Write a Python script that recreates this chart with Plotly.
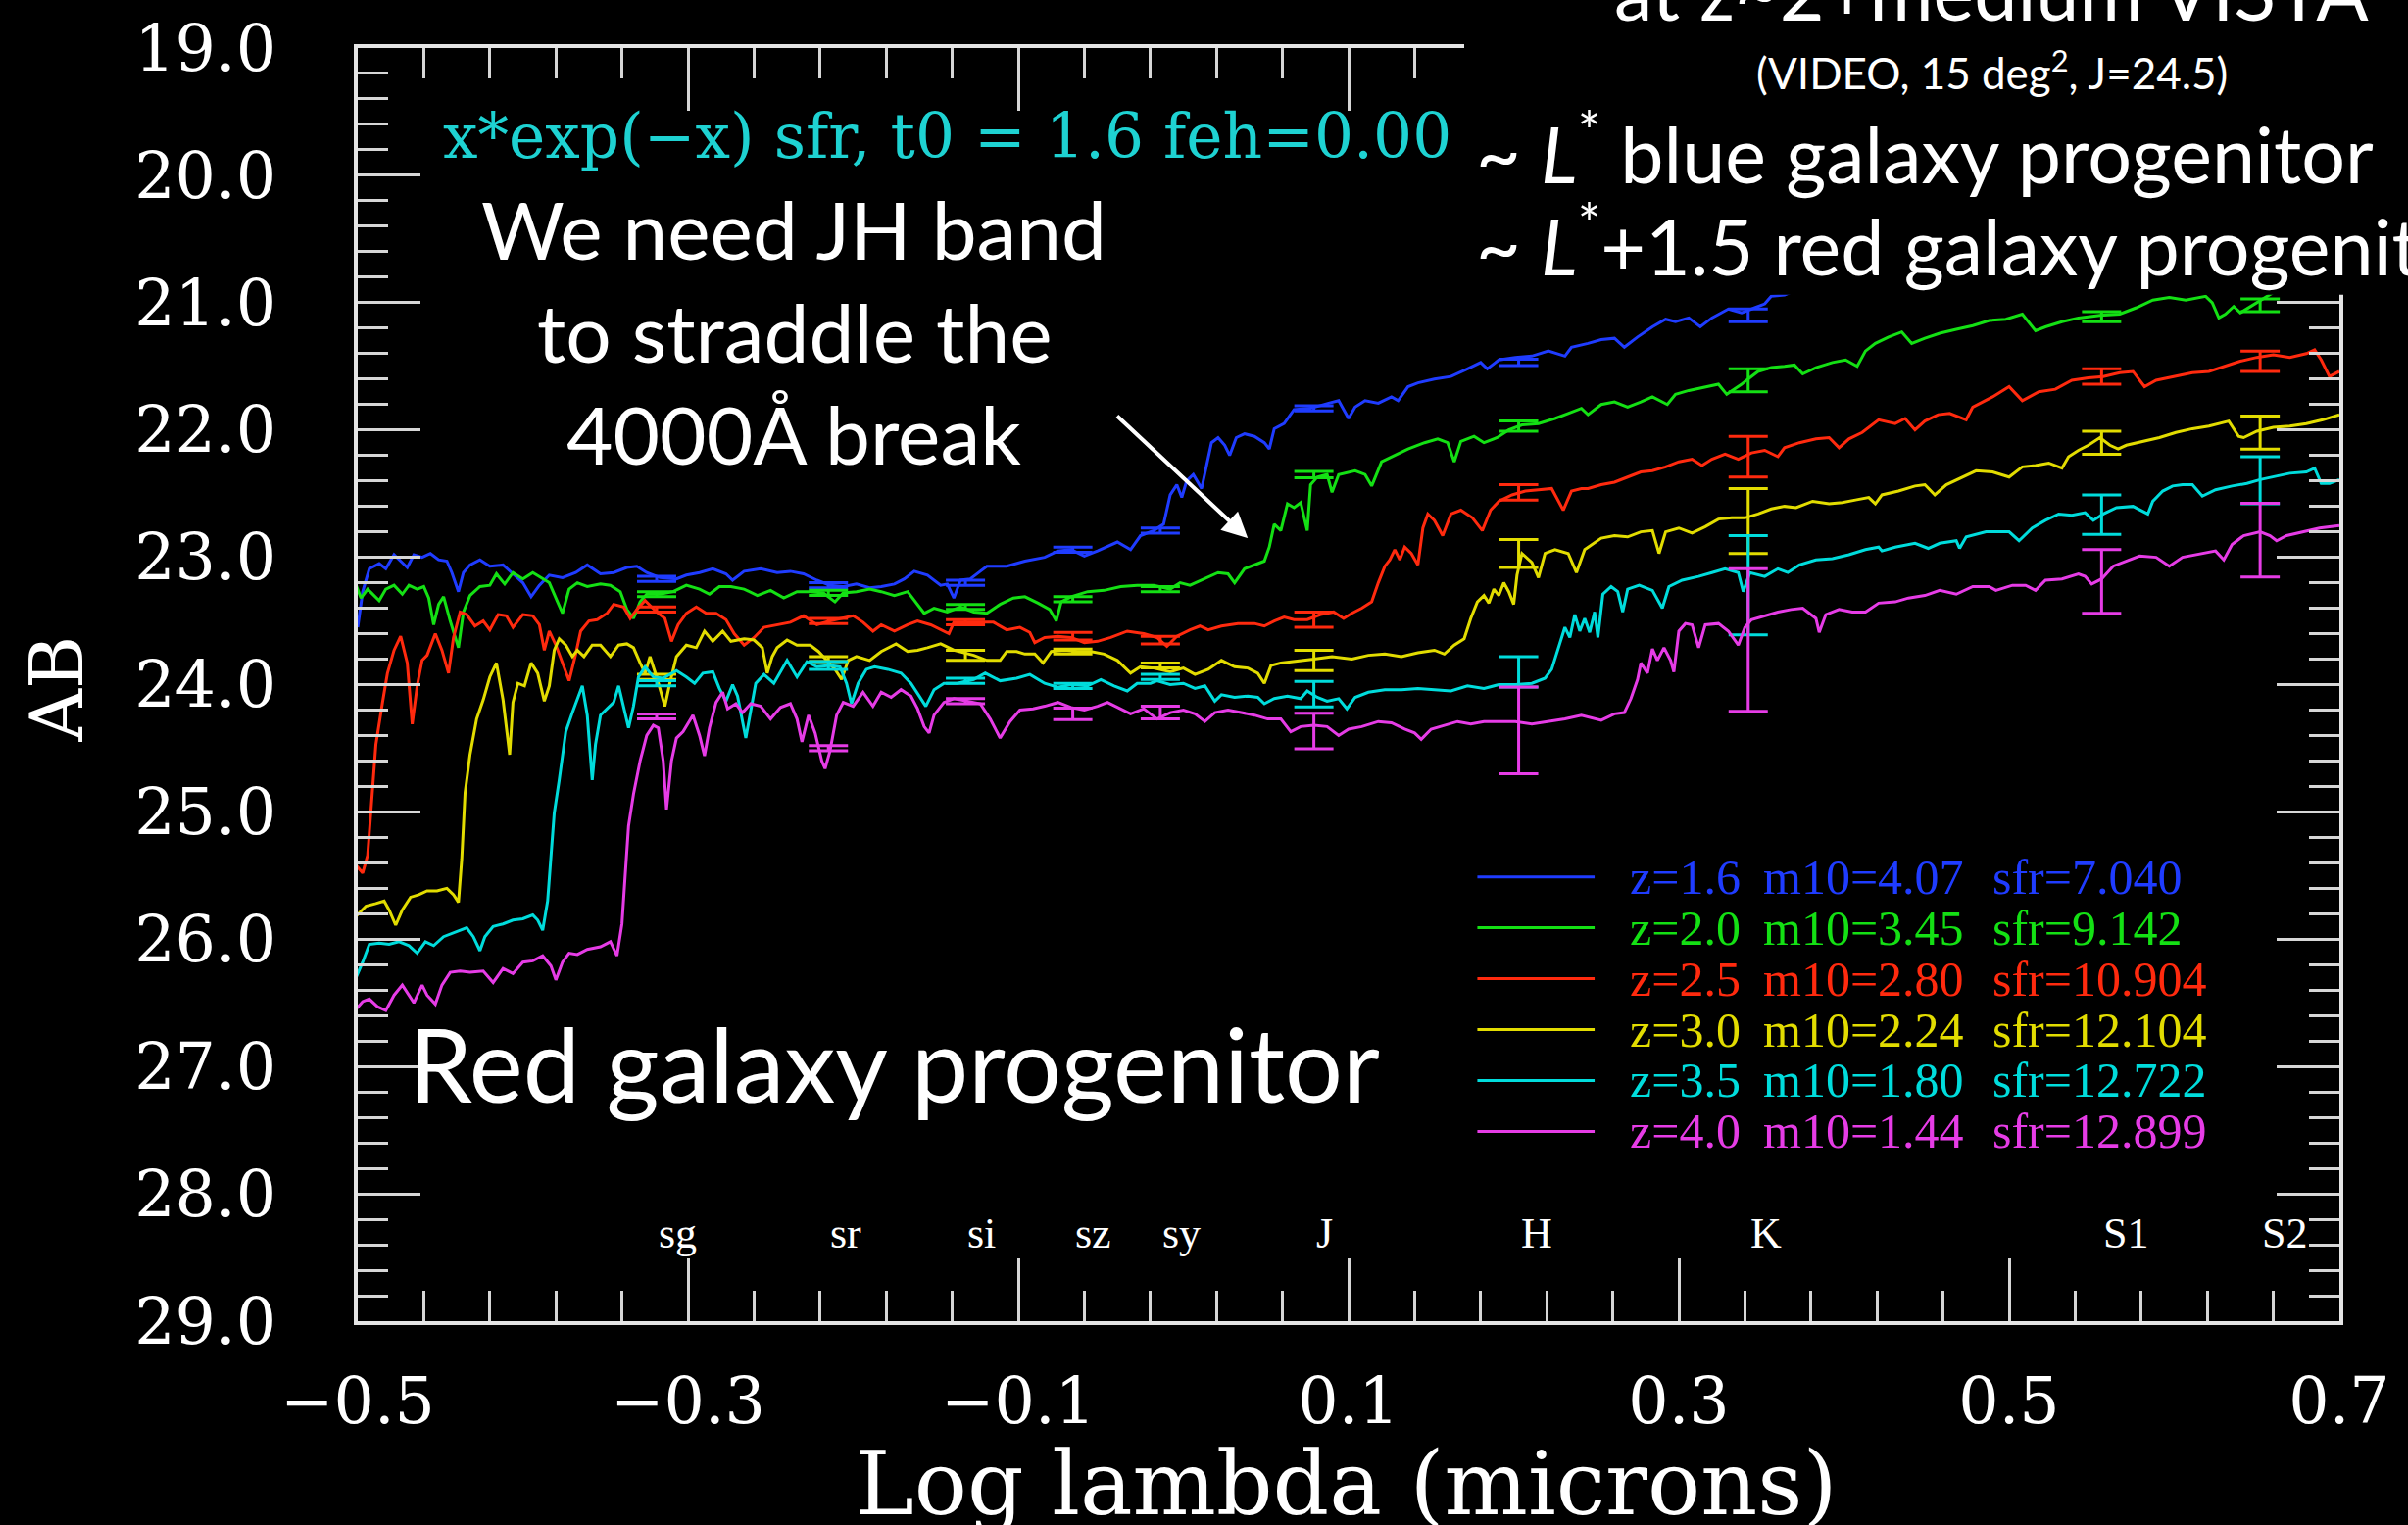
import plotly.graph_objects as go

# ---------------------------------------------------------------- data
# photometric bands (log10 of central wavelength in microns)
band_names = ["sg", "sr", "si", "sz", "sy", "J", "H", "K", "S1", "S2"]
band_logwl = [-0.319, -0.215, -0.132, -0.067, -0.014, 0.079, 0.203, 0.342, 0.556, 0.652]

# model spectra: (log lambda [micron], AB mag)
spec_z16 = [(-0.500,23.55),(-0.497,23.27),(-0.493,23.09),(-0.487,23.05),(-0.483,23.09),(-0.478,22.98),(-0.474,23.03),(-0.470,23.08),(-0.466,22.98),(-0.461,23.00),(-0.456,22.97),(-0.451,23.02),(-0.446,23.03),(-0.443,23.12),(-0.439,23.27),(-0.436,23.12),(-0.432,23.06),(-0.426,23.02),(-0.420,23.07),(-0.412,23.06),(-0.406,23.13),(-0.400,23.20),(-0.395,23.31),(-0.390,23.22),(-0.384,23.14),(-0.376,23.16),(-0.368,23.12),(-0.361,23.06),(-0.353,23.13),(-0.345,23.12),(-0.337,23.08),(-0.331,23.07),(-0.325,23.12),(-0.317,23.16),(-0.307,23.17),(-0.301,23.14),(-0.293,23.12),(-0.285,23.09),(-0.277,23.13),(-0.273,23.18),
            (-0.266,23.11),(-0.256,23.09),(-0.246,23.12),(-0.238,23.11),(-0.230,23.13),(-0.222,23.18),(-0.214,23.22),(-0.206,23.23),(-0.198,23.21),(-0.190,23.24),(-0.183,23.23),(-0.175,23.21),(-0.169,23.17),(-0.163,23.11),(-0.155,23.14),(-0.147,23.22),(-0.143,23.21),(-0.139,23.32),(-0.135,23.18),(-0.129,23.17),(-0.123,23.11),(-0.119,23.07),(-0.107,23.07),(-0.096,23.03),(-0.084,23.00),(-0.076,22.95),(-0.068,22.94),(-0.060,22.99),(-0.052,22.95),(-0.040,22.88),(-0.032,22.94),(-0.026,22.83),(-0.018,22.79),
            (-0.012,22.74),(-0.008,22.51),(-0.004,22.43),(-0.001,22.53),(0.002,22.40),(0.006,22.35),(0.011,22.46),(0.014,22.28),(0.017,22.10),(0.021,22.06),(0.025,22.12),(0.028,22.20),(0.032,22.06),(0.037,22.03),(0.043,22.05),(0.049,22.10),(0.052,22.15),(0.055,21.99),(0.061,21.95),(0.067,21.84),(0.077,21.83),(0.088,21.79),(0.094,21.77),(0.100,21.91),(0.104,21.82),(0.110,21.77),(0.118,21.79),(0.126,21.74),(0.130,21.77),(0.136,21.66),(0.142,21.63),(0.152,21.60),(0.162,21.58),(0.172,21.52),(0.180,21.47),(0.184,21.52),(0.191,21.45),(0.201,21.43),(0.211,21.42),(0.221,21.38),(0.231,21.42),(0.235,21.35),(0.245,21.32),
            (0.253,21.29),(0.261,21.28),(0.267,21.35),(0.275,21.27),(0.284,21.19),(0.292,21.13),(0.298,21.15),(0.306,21.12),(0.313,21.19),(0.320,21.12),(0.330,21.05),(0.338,21.08),(0.346,21.04),(0.352,21.01),(0.356,20.95),(0.364,20.94),(0.375,20.88)]

spec_z20 = [(-0.501,23.22),(-0.498,23.32),(-0.494,23.25),(-0.491,23.29),(-0.487,23.34),(-0.483,23.25),(-0.478,23.22),(-0.473,23.29),(-0.469,23.22),(-0.464,23.25),(-0.460,23.23),(-0.457,23.32),(-0.454,23.53),(-0.451,23.37),(-0.448,23.31),(-0.444,23.50),(-0.439,23.71),(-0.436,23.43),(-0.432,23.30),(-0.426,23.23),(-0.420,23.22),(-0.416,23.13),(-0.411,23.21),(-0.406,23.12),(-0.400,23.17),(-0.394,23.12),(-0.388,23.17),(-0.384,23.20),(-0.379,23.35),(-0.376,23.44),(-0.372,23.25),(-0.367,23.20),(-0.361,23.23),(-0.353,23.21),(-0.347,23.22),(-0.341,23.27),(-0.337,23.41),(-0.333,23.48),(-0.329,23.35),(-0.325,23.29),(-0.317,23.29),(-0.309,23.27),(-0.301,23.22),(-0.293,23.25),(-0.287,23.29),(-0.281,23.23),(-0.274,23.23),
            (-0.266,23.25),(-0.258,23.30),(-0.250,23.26),(-0.242,23.32),(-0.234,23.27),(-0.226,23.27),(-0.218,23.28),(-0.211,23.35),(-0.206,23.28),(-0.198,23.27),(-0.190,23.25),(-0.183,23.27),(-0.175,23.30),(-0.167,23.27),(-0.161,23.37),(-0.157,23.44),(-0.151,23.40),(-0.143,23.43),(-0.135,23.39),(-0.127,23.43),(-0.119,23.44),(-0.111,23.37),(-0.103,23.32),(-0.096,23.31),(-0.088,23.36),(-0.081,23.41),(-0.077,23.50),(-0.074,23.35),(-0.068,23.31),(-0.058,23.27),(-0.048,23.26),(-0.038,23.23),(-0.028,23.22),(-0.018,23.22),
            (-0.008,23.25),(-0.002,23.20),(0.004,23.22),(0.013,23.17),(0.021,23.12),(0.027,23.13),(0.031,23.20),(0.037,23.09),(0.043,23.06),(0.049,23.03),(0.052,22.92),(0.055,22.74),(0.059,22.79),(0.063,22.58),(0.067,22.61),(0.071,22.57),(0.075,22.79),(0.077,22.43),(0.081,22.37),(0.087,22.35),(0.090,22.49),(0.094,22.35),(0.104,22.32),(0.110,22.35),(0.114,22.44),(0.120,22.25),(0.128,22.20),(0.136,22.15),(0.146,22.10),(0.154,22.07),(0.160,22.10),(0.164,22.25),(0.168,22.09),(0.176,22.05),(0.182,22.10),(0.190,22.06),(0.197,22.00),(0.205,21.96),(0.215,21.95),(0.225,21.91),(0.233,21.87),(0.241,21.83),
            (0.245,21.88),(0.253,21.80),(0.261,21.78),(0.269,21.82),(0.277,21.78),(0.284,21.74),(0.293,21.80),(0.298,21.72),(0.306,21.69),(0.316,21.66),(0.324,21.64),(0.329,21.72),(0.338,21.64),(0.348,21.54),(0.356,21.51),(0.364,21.50),(0.370,21.49),(0.375,21.56),(0.383,21.51),(0.393,21.47),(0.401,21.45),(0.408,21.50),(0.413,21.38),(0.419,21.32),(0.427,21.27),(0.435,21.23),(0.441,21.32),(0.449,21.28),(0.458,21.24),(0.468,21.21),(0.478,21.18),
            (0.488,21.14),(0.498,21.13),(0.508,21.09),(0.516,21.22),(0.522,21.19),(0.532,21.15),(0.542,21.12),(0.555,21.10),(0.567,21.09),(0.577,21.04),(0.587,20.98),(0.597,20.96),(0.607,20.98),(0.619,20.95),(0.623,21.00),(0.627,21.12),(0.631,21.09),(0.636,21.03),(0.640,21.08),(0.646,21.03),(0.652,20.98),(0.660,20.92),(0.700,20.85)]

spec_z25 = [(-0.501,25.42),(-0.497,25.48),(-0.494,25.34),(-0.492,24.98),(-0.489,24.47),(-0.485,24.14),(-0.482,23.91),(-0.478,23.73),(-0.474,23.62),(-0.470,23.83),(-0.467,24.31),(-0.464,24.01),(-0.461,23.81),(-0.458,23.77),(-0.453,23.60),(-0.449,23.73),(-0.445,23.91),(-0.442,23.63),(-0.438,23.43),(-0.434,23.45),(-0.429,23.54),(-0.424,23.50),(-0.420,23.57),(-0.415,23.45),(-0.410,23.46),(-0.406,23.55),(-0.400,23.45),(-0.394,23.46),(-0.390,23.53),(-0.387,23.73),(-0.384,23.58),(-0.380,23.69),(-0.376,23.83),(-0.372,23.97),(-0.368,23.76),(-0.365,23.58),(-0.360,23.50),(-0.355,23.49),(-0.349,23.44),(-0.345,23.37),(-0.339,23.39),(-0.335,23.48),(-0.331,23.41),(-0.326,23.34),(-0.319,23.43),(-0.314,23.48),(-0.310,23.66),(-0.306,23.53),(-0.301,23.44),(-0.295,23.39),(-0.289,23.44),(-0.283,23.44),(-0.277,23.49),(-0.272,23.60),
            (-0.266,23.69),(-0.260,23.63),(-0.254,23.55),(-0.246,23.53),(-0.238,23.51),(-0.230,23.46),(-0.222,23.53),(-0.214,23.50),(-0.206,23.48),(-0.200,23.46),(-0.194,23.51),(-0.188,23.58),(-0.183,23.53),(-0.175,23.58),(-0.167,23.53),(-0.161,23.50),(-0.153,23.53),(-0.145,23.58),(-0.142,23.60),(-0.139,23.51),(-0.131,23.51),(-0.123,23.51),(-0.115,23.51),(-0.107,23.57),(-0.099,23.55),(-0.093,23.59),(-0.090,23.67),(-0.084,23.63),(-0.076,23.62),(-0.068,23.63),(-0.060,23.67),(-0.052,23.66),(-0.044,23.63),(-0.034,23.58),(-0.024,23.60),
            (-0.016,23.63),(-0.010,23.70),(-0.004,23.62),(0.004,23.57),(0.010,23.54),(0.015,23.57),(0.023,23.54),(0.033,23.52),(0.043,23.52),(0.049,23.54),(0.055,23.50),(0.061,23.47),(0.067,23.49),(0.075,23.49),(0.083,23.45),(0.091,23.43),(0.097,23.48),(0.102,23.44),(0.108,23.40),(0.114,23.35),(0.118,23.20),(0.122,23.07),(0.125,23.02),(0.128,22.94),(0.131,23.02),(0.134,22.92),(0.138,22.97),(0.142,23.06),(0.145,22.77),(0.148,22.66),(0.152,22.71),(0.157,22.83),(0.162,22.66),(0.168,22.63),(0.175,22.69),(0.181,22.79),(0.186,22.63),(0.191,22.56),(0.199,22.51),(0.207,22.48),(0.215,22.47),(0.223,22.46),(0.230,22.63),(0.235,22.48),(0.241,22.46),
            (0.245,22.46),(0.253,22.43),(0.261,22.41),(0.269,22.37),(0.277,22.33),(0.284,22.32),(0.292,22.29),(0.300,22.25),(0.308,22.23),(0.314,22.28),(0.320,22.23),(0.328,22.19),(0.336,22.23),(0.344,22.18),(0.352,22.16),(0.360,22.21),(0.364,22.14),(0.373,22.10),(0.383,22.07),(0.391,22.06),(0.397,22.14),(0.403,22.07),(0.411,22.02),(0.421,21.92),(0.431,21.95),(0.437,21.91),(0.443,22.00),(0.449,21.93),(0.457,21.88),(0.464,21.87),(0.474,21.92),(0.478,21.82),
            (0.490,21.74),(0.500,21.66),(0.508,21.77),(0.518,21.70),(0.528,21.68),(0.538,21.61),(0.548,21.59),(0.557,21.58),(0.567,21.55),(0.575,21.54),(0.582,21.66),(0.589,21.61),(0.601,21.58),(0.611,21.55),(0.621,21.54),(0.631,21.50),(0.640,21.46),(0.650,21.43),(0.660,21.41),(0.670,21.43),(0.680,21.40),(0.685,21.37),(0.689,21.45),(0.694,21.58),(0.700,21.54)]

spec_z30 = [(-0.501,25.82),(-0.495,25.74),(-0.489,25.72),(-0.484,25.70),(-0.481,25.77),(-0.477,25.89),(-0.473,25.77),(-0.468,25.67),(-0.463,25.65),(-0.458,25.62),(-0.452,25.62),(-0.446,25.60),(-0.442,25.65),(-0.439,25.71),(-0.437,25.37),(-0.435,24.85),(-0.432,24.55),(-0.428,24.27),(-0.424,24.12),(-0.420,23.94),(-0.416,23.83),(-0.412,24.12),(-0.408,24.55),(-0.406,24.14),(-0.403,23.99),(-0.399,24.01),(-0.395,23.83),(-0.391,23.91),(-0.387,24.13),(-0.384,24.01),(-0.381,23.73),(-0.378,23.64),(-0.374,23.69),(-0.370,23.78),(-0.367,23.73),(-0.363,23.78),(-0.358,23.69),(-0.353,23.69),(-0.347,23.78),(-0.342,23.69),(-0.337,23.68),(-0.333,23.71),(-0.329,23.83),(-0.326,23.91),(-0.323,23.78),(-0.319,23.94),(-0.314,24.17),(-0.311,23.99),(-0.307,23.78),(-0.301,23.69),(-0.295,23.71),(-0.290,23.58),(-0.285,23.66),(-0.279,23.58),(-0.274,23.66),
            (-0.266,23.64),(-0.260,23.65),(-0.255,23.71),(-0.252,23.91),(-0.249,23.78),(-0.246,23.71),(-0.240,23.65),(-0.234,23.69),(-0.226,23.69),(-0.221,23.74),(-0.216,23.81),(-0.211,23.88),(-0.207,23.96),(-0.203,23.81),(-0.198,23.78),(-0.190,23.81),(-0.183,23.74),(-0.174,23.68),(-0.167,23.74),(-0.161,23.73),(-0.155,23.71),(-0.147,23.68),(-0.139,23.73),(-0.127,23.77),(-0.119,23.81),(-0.111,23.81),(-0.107,23.74),(-0.101,23.74),(-0.096,23.76),(-0.090,23.76),(-0.085,23.83),(-0.080,23.74),(-0.072,23.73),(-0.064,23.74),(-0.056,23.74),(-0.048,23.76),(-0.040,23.81),(-0.032,23.91),(-0.026,23.86),(-0.018,23.87),
            (-0.008,23.90),(0.000,23.87),(0.007,23.92),(0.015,23.88),(0.023,23.81),(0.031,23.86),(0.039,23.87),(0.045,23.91),(0.049,23.99),(0.053,23.85),(0.059,23.83),(0.067,23.82),(0.079,23.80),(0.090,23.78),(0.102,23.80),(0.112,23.77),(0.122,23.76),(0.132,23.78),(0.142,23.75),(0.152,23.73),(0.158,23.76),(0.164,23.69),(0.170,23.64),(0.174,23.48),(0.178,23.35),(0.182,23.30),(0.185,23.36),(0.188,23.25),(0.191,23.30),(0.194,23.20),(0.197,23.27),(0.200,23.37),(0.202,23.14),(0.205,22.97),(0.211,23.04),(0.215,23.16),(0.219,22.97),(0.225,22.94),(0.233,22.97),(0.238,23.12),(0.243,22.94),
            (0.253,22.85),(0.261,22.83),(0.269,22.84),(0.277,22.80),(0.284,22.79),(0.288,22.97),(0.292,22.80),(0.300,22.77),(0.308,22.81),(0.316,22.76),(0.324,22.70),(0.332,22.69),(0.340,22.69),(0.348,22.66),(0.356,22.62),(0.364,22.60),(0.371,22.61),(0.381,22.56),(0.391,22.58),(0.399,22.57),(0.407,22.55),(0.415,22.53),(0.419,22.58),(0.423,22.51),(0.433,22.48),(0.443,22.44),(0.449,22.43),(0.455,22.51),(0.462,22.43),(0.470,22.38),(0.480,22.32),
            (0.490,22.33),(0.500,22.37),(0.508,22.29),(0.516,22.28),(0.524,22.26),(0.532,22.30),(0.536,22.21),(0.542,22.16),(0.548,22.12),(0.555,22.06),(0.561,22.12),(0.566,22.15),(0.571,22.12),(0.581,22.09),(0.591,22.06),(0.601,22.02),(0.611,21.99),(0.621,21.97),(0.633,21.93),(0.639,22.05),(0.642,22.06),(0.650,22.01),(0.660,21.98),(0.670,21.97),(0.680,21.95),(0.690,21.92),(0.700,21.88)]

spec_z35 = [(-0.501,26.30),(-0.497,26.18),(-0.493,26.04),(-0.487,26.03),(-0.481,26.04),(-0.475,26.02),(-0.469,26.05),(-0.464,26.11),(-0.459,26.02),(-0.454,26.05),(-0.448,25.98),(-0.442,25.95),(-0.434,25.91),(-0.430,25.98),(-0.426,26.09),(-0.423,25.98),(-0.418,25.90),(-0.412,25.88),(-0.406,25.85),(-0.400,25.84),(-0.394,25.81),(-0.391,25.85),(-0.388,25.93),(-0.385,25.70),(-0.383,25.37),(-0.381,25.01),(-0.378,24.75),(-0.374,24.37),(-0.370,24.22),(-0.367,24.12),(-0.364,24.01),(-0.361,24.24),(-0.358,24.75),(-0.356,24.47),(-0.353,24.24),(-0.349,24.19),(-0.345,24.14),(-0.342,24.01),(-0.339,24.17),(-0.336,24.34),(-0.333,24.17),(-0.330,23.94),(-0.326,23.86),(-0.321,23.94),(-0.315,23.95),(-0.307,23.89),(-0.301,23.94),(-0.296,23.99),(-0.291,23.91),(-0.285,23.90),(-0.281,24.03),(-0.277,24.13),(-0.273,24.00),(-0.270,24.09),(-0.265,24.42),
            (-0.259,23.99),(-0.254,23.92),(-0.248,23.99),(-0.240,23.81),(-0.234,23.94),(-0.228,23.82),(-0.222,23.86),(-0.214,23.85),(-0.208,23.86),(-0.204,23.99),(-0.201,24.15),(-0.197,23.99),(-0.192,23.88),(-0.187,23.86),(-0.179,23.88),(-0.171,23.91),(-0.165,23.99),(-0.160,24.09),(-0.156,24.17),(-0.151,24.04),(-0.145,23.99),(-0.137,23.99),(-0.127,23.96),(-0.120,23.91),(-0.111,23.97),(-0.101,23.95),(-0.093,23.92),(-0.084,23.99),(-0.076,24.02),(-0.068,24.00),(-0.058,24.01),(-0.050,23.96),(-0.042,24.01),(-0.034,24.05),(-0.028,23.99),(-0.020,23.99),
            (-0.016,23.97),(-0.008,24.00),(0.000,23.99),(0.007,24.03),(0.013,24.01),(0.019,24.13),(0.023,24.08),(0.031,24.10),(0.039,24.09),(0.045,24.10),(0.049,24.15),(0.055,24.11),(0.063,24.09),(0.071,24.11),(0.075,24.05),(0.081,24.10),(0.087,24.13),(0.094,24.11),(0.099,24.19),(0.104,24.10),(0.112,24.06),(0.122,24.04),(0.132,24.04),(0.142,24.03),(0.152,24.04),(0.162,24.05),(0.172,24.01),(0.182,24.03),(0.191,24.00),(0.201,24.00),(0.211,23.99),(0.219,23.95),(0.223,23.88),(0.227,23.71),(0.231,23.55),(0.234,23.63),(0.237,23.45),(0.240,23.58),(0.243,23.48),(0.246,23.59),(0.249,23.43),(0.251,23.63),(0.254,23.29),
            (0.259,23.23),(0.263,23.27),(0.266,23.43),(0.269,23.25),(0.276,23.22),(0.284,23.26),(0.290,23.40),(0.294,23.23),(0.302,23.18),(0.312,23.15),(0.320,23.12),(0.328,23.09),(0.336,23.12),(0.339,23.27),(0.343,23.12),(0.352,23.15),(0.360,23.09),(0.366,23.12),(0.373,23.06),(0.383,23.02),(0.393,23.01),(0.403,22.98),(0.413,22.94),(0.421,22.92),(0.423,22.95),(0.431,22.92),(0.443,22.89),(0.451,22.93),(0.458,22.89),(0.468,22.87),(0.470,22.93),(0.474,22.84),(0.486,22.80),
            (0.492,22.80),(0.500,22.80),(0.506,22.87),(0.514,22.77),(0.522,22.71),(0.530,22.66),(0.538,22.67),(0.546,22.65),(0.551,22.71),(0.557,22.66),(0.565,22.61),(0.575,22.60),(0.584,22.66),(0.587,22.56),(0.593,22.48),(0.599,22.44),(0.605,22.43),(0.611,22.43),(0.617,22.52),(0.625,22.47),(0.635,22.44),(0.644,22.42),(0.652,22.39),(0.660,22.37),(0.670,22.34),(0.680,22.33),(0.685,22.30),(0.689,22.42),(0.694,22.42),(0.700,22.39)]

spec_z40 = [(-0.501,26.55),(-0.497,26.49),(-0.493,26.47),(-0.488,26.53),(-0.483,26.56),(-0.478,26.44),(-0.473,26.36),(-0.469,26.44),(-0.466,26.50),(-0.461,26.36),(-0.458,26.44),(-0.453,26.51),(-0.449,26.36),(-0.444,26.26),(-0.438,26.25),(-0.432,26.26),(-0.424,26.25),(-0.418,26.34),(-0.412,26.23),(-0.406,26.27),(-0.400,26.18),(-0.394,26.17),(-0.388,26.13),(-0.383,26.21),(-0.380,26.32),(-0.376,26.18),(-0.372,26.11),(-0.367,26.12),(-0.361,26.08),(-0.353,26.06),(-0.347,26.02),(-0.343,26.13),(-0.340,25.88),(-0.338,25.49),(-0.336,25.11),(-0.333,24.86),(-0.329,24.60),(-0.325,24.40),(-0.321,24.32),(-0.318,24.34),(-0.315,24.60),(-0.313,24.98),(-0.310,24.60),(-0.307,24.42),(-0.303,24.37),(-0.297,24.24),(-0.293,24.40),(-0.290,24.56),(-0.287,24.34),(-0.283,24.14),(-0.279,24.06),(-0.276,24.19),(-0.271,24.15),(-0.267,24.22),
            (-0.262,24.15),(-0.256,24.17),(-0.250,24.27),(-0.244,24.18),(-0.238,24.15),(-0.234,24.27),(-0.231,24.45),(-0.227,24.24),(-0.223,24.38),(-0.219,24.60),(-0.217,24.66),(-0.214,24.52),(-0.210,24.24),(-0.206,24.14),(-0.200,24.17),(-0.194,24.06),(-0.188,24.17),(-0.183,24.06),(-0.177,24.10),(-0.171,24.04),(-0.165,24.09),(-0.161,24.19),(-0.157,24.33),(-0.154,24.38),(-0.151,24.24),(-0.145,24.14),(-0.139,24.11),(-0.131,24.13),(-0.123,24.15),(-0.117,24.27),(-0.111,24.42),(-0.105,24.29),(-0.099,24.20),(-0.091,24.19),(-0.084,24.17),(-0.076,24.14),(-0.068,24.18),(-0.060,24.20),(-0.052,24.17),(-0.046,24.14),(-0.038,24.19),(-0.032,24.23),(-0.024,24.19),
            (-0.016,24.27),(-0.008,24.22),(0.000,24.20),(0.007,24.23),(0.013,24.29),(0.019,24.22),(0.027,24.20),(0.035,24.22),(0.043,24.24),(0.051,24.27),(0.059,24.27),(0.065,24.37),(0.071,24.33),(0.079,24.32),(0.087,24.33),(0.094,24.40),(0.100,24.35),(0.108,24.33),(0.118,24.29),(0.126,24.30),(0.134,24.35),(0.140,24.38),(0.144,24.43),(0.150,24.35),(0.158,24.32),(0.166,24.29),(0.174,24.31),(0.182,24.29),(0.191,24.29),(0.201,24.29),(0.211,24.31),(0.221,24.29),(0.231,24.27),(0.241,24.24),
            (0.253,24.28),(0.261,24.23),(0.267,24.22),(0.271,24.11),(0.275,23.96),(0.277,23.83),(0.281,23.91),(0.284,23.72),(0.287,23.81),(0.291,23.71),(0.295,23.81),(0.297,23.90),(0.300,23.58),(0.304,23.52),(0.308,23.53),(0.312,23.71),(0.316,23.53),(0.324,23.52),(0.330,23.58),(0.336,23.69),(0.340,23.55),(0.344,23.49),(0.352,23.46),(0.360,23.43),(0.368,23.41),(0.375,23.40),(0.383,23.48),(0.385,23.59),(0.389,23.45),(0.397,23.41),(0.405,23.43),(0.413,23.43),(0.421,23.36),(0.431,23.35),(0.439,23.32),(0.449,23.30),(0.458,23.26),(0.468,23.29),(0.478,23.23),(0.488,23.23),
            (0.492,23.26),(0.502,23.22),(0.510,23.22),(0.516,23.26),(0.522,23.18),(0.532,23.17),(0.542,23.13),(0.546,23.15),(0.550,23.21),(0.556,23.17),(0.563,23.07),(0.571,23.03),(0.579,22.99),(0.589,23.00),(0.597,23.07),(0.605,23.00),(0.617,22.97),(0.625,22.95),(0.630,23.02),(0.635,22.90),(0.642,22.83),(0.652,22.80),(0.658,22.83),(0.662,22.87),(0.668,22.83),(0.678,22.80),(0.688,22.77),(0.700,22.75)]

# band photometry and 1-sigma errors (one entry per band)
phot_z16 = [23.17, 23.22, 23.20, 22.94, 22.79, 21.83, 21.47, 21.10, None, None]
err_z16  = [0.02, 0.02, 0.02, 0.02, 0.02, 0.02, 0.025, 0.05, None, None]
phot_z20 = [23.29, 23.28, 23.39, 23.33, 23.25, 22.35, 21.97, 21.61, 21.11, 21.02]
err_z20  = [0.02, 0.02, 0.02, 0.02, 0.02, 0.025, 0.04, 0.09, 0.04, 0.05]
phot_z25 = [23.41, 23.50, 23.51, 23.62, 23.65, 23.49, 22.49, 22.21, 21.58, 21.46]
err_z25  = [0.02, 0.02, 0.02, 0.03, 0.03, 0.06, 0.06, 0.16, 0.06, 0.08]
phot_z30 = [23.94, 23.80, 23.77, 23.74, 23.85, 23.81, 22.97, 22.715, 22.10, 22.02]
err_z30  = [0.02, 0.02, 0.04, 0.02, 0.02, 0.08, 0.11, 0.255, 0.09, 0.13]
phot_z35 = [23.99, 23.85, 23.97, 24.01, 23.94, 24.075, 23.90, 23.22, 22.665, 22.395]
err_z35  = [0.02, 0.03, 0.02, 0.02, 0.02, 0.10, 0.12, 0.39, 0.155, 0.185]
phot_z40 = [24.25, 24.50, 24.13, 24.23, 24.22, 24.365, 24.36, 23.65, 23.19, 22.865]
err_z40  = [0.02, 0.02, 0.02, 0.045, 0.05, 0.14, 0.34, 0.56, 0.25, 0.29]

# legend text columns
z_labels   = ["z=1.6", "z=2.0", "z=2.5", "z=3.0", "z=3.5", "z=4.0"]
m10_labels = ["m10=4.07", "m10=3.45", "m10=2.80", "m10=2.24", "m10=1.80", "m10=1.44"]
sfr_labels = ["sfr=7.040", "sfr=9.142", "sfr=10.904", "sfr=12.104", "sfr=12.722", "sfr=12.899"]
colors = ["#1f3cff", "#14e014", "#ff2a0e", "#e2dc00", "#00dcdc", "#e63ce6"]

spectra = [spec_z16, spec_z20, spec_z25, spec_z30, spec_z35, spec_z40]
photometry = [phot_z16, phot_z20, phot_z25, phot_z30, phot_z35, phot_z40]
errors = [err_z16, err_z20, err_z25, err_z30, err_z35, err_z40]

# ---------------------------------------------------------------- geometry
W, H = 2457, 1556
L, R, T, B = 365, 2387, 42, 1348          # plot-area edges (px)


def px(xp):
    return (xp - L) / (R - L)


def py(yp):
    return (B - yp) / (B - T)


fig = go.Figure()

for spec, phot, err, col in zip(spectra, photometry, errors, colors):
    fig.add_trace(go.Scatter(
        x=[p[0] for p in spec], y=[p[1] for p in spec], mode="lines",
        line=dict(color=col, width=3), hoverinfo="skip"))
    fig.add_trace(go.Scatter(
        x=band_logwl, y=phot, mode="markers",
        marker=dict(size=1, color=col),
        error_y=dict(type="data", array=err, color=col, thickness=3, width=20),
        hoverinfo="skip"))

tick_col = "#d6d6d6"
axis_common = dict(
    ticks="inside", ticklen=64, tickwidth=3, tickcolor=tick_col,
    showline=True, linecolor="#e4e4e4", linewidth=4, mirror="allticks",
    showgrid=False, zeroline=False, tickformat=".1f",
    tickfont=dict(family="DejaVu Serif", size=65, color="white"),
)

fig.update_layout(
    width=W, height=H,
    paper_bgcolor="black", plot_bgcolor="black",
    margin=dict(l=L, r=W - R, t=T, b=H - B, pad=0),
    showlegend=False,
    xaxis=dict(range=[-0.5, 0.7], tick0=-0.5, dtick=0.2, ticklabelstandoff=22,
               minor=dict(ticks="inside", ticklen=31, tickwidth=3, tickcolor=tick_col,
                          tick0=-0.5, dtick=0.04, showgrid=False),
               **axis_common),
    yaxis=dict(range=[29, 19], tick0=19, dtick=1, ticklabelstandoff=66,
               minor=dict(ticks="inside", ticklen=31, tickwidth=3, tickcolor=tick_col,
                          tick0=19, dtick=0.2, showgrid=False),
               **axis_common),
)

shapes = []
annotations = []

# legend: coloured sample line + three text columns per model
leg_y0, leg_dy = 25.51, 0.40
for i, col in enumerate(colors):
    yy = leg_y0 + i * leg_dy
    shapes.append(dict(type="line", xref="x", yref="y", x0=0.178, x1=0.249, y0=yy, y1=yy,
                       line=dict(color=col, width=3)))
    for xx, txt in ((0.269, z_labels[i]), (0.350, m10_labels[i]), (0.489, sfr_labels[i])):
        annotations.append(dict(x=xx, y=yy, xref="x", yref="y", text=txt, showarrow=False,
                                xanchor="left", yanchor="middle",
                                font=dict(family="Liberation Serif", size=50, color=col)))

# band names along the bottom of the panel
for name, lw in zip(band_names, band_logwl):
    annotations.append(dict(x=lw, y=28.31, xref="x", yref="y", text=name, showarrow=False,
                            xanchor="left", yanchor="middle",
                            font=dict(family="Liberation Serif", size=44, color="white")))

# model header
annotations.append(dict(x=px(450), y=py(133), xref="paper", yref="paper",
                        text="x*exp(\u2212x) sfr, t0 = 1.6 feh=0.00", showarrow=False,
                        xanchor="left", yanchor="middle",
                        font=dict(family="DejaVu Serif", size=63, color="#1ed2d2")))

# axis titles
annotations.append(dict(x=px(58), y=py(700), xref="paper", yref="paper", text="AB",
                        textangle=-90, showarrow=False, xanchor="center", yanchor="middle",
                        font=dict(family="DejaVu Serif", size=74, color="white")))
annotations.append(dict(x=px(1374), y=py(1514), xref="paper", yref="paper",
                        text="Log lambda (microns)", showarrow=False,
                        xanchor="center", yanchor="middle",
                        font=dict(family="DejaVu Serif", size=90, color="white")))

# black panel behind the headline text (hides the top-right of the frame)
shapes.append(dict(type="rect", xref="paper", yref="paper", x0=px(1494), x1=px(W + 20),
                   y0=py(295), y1=py(-20), fillcolor="black", line=dict(width=0),
                   layer="above"))

slide_font = "Lato"
headlines = [
    ("at z~2+medium VISTA", 2032, 23, 79, "center"),
    ("(VIDEO, 15 deg<sup>2</sup>, J=24.5)", 2032, 92, 44, "center"),
    ("~ <i>L</i><sup>*</sup> blue galaxy progenitor", 1504, 185, 79, "left"),
    ("~ <i>L</i><sup>*</sup>+1.5 red galaxy progenitor", 1504, 279, 79, "left"),
    ("We need JH band", 810, 268, 82, "center"),
    ("to straddle the", 810, 373, 82, "center"),
    ("4000\u00c5 break", 810, 478, 82, "center"),
    ("Red galaxy progenitor", 415, 1131, 104, "left"),
]
for txt, xp, base, size, anchor in headlines:
    annotations.append(dict(x=px(xp), y=py(base - 0.35 * size - 12), xref="paper", yref="paper",
                            text=txt, showarrow=False, xanchor=anchor, yanchor="middle",
                            font=dict(family=slide_font, size=size, color="white")))

# arrow pointing at the break
annotations.append(dict(x=0.039, y=22.85, xref="x", yref="y", ax=-0.041, ay=21.88,
                        axref="x", ayref="y", text="", showarrow=True, arrowhead=2,
                        arrowsize=1.3, arrowwidth=4, arrowcolor="white", standoff=0))

fig.update_layout(shapes=shapes, annotations=annotations)

fig.write_html("out.html")
